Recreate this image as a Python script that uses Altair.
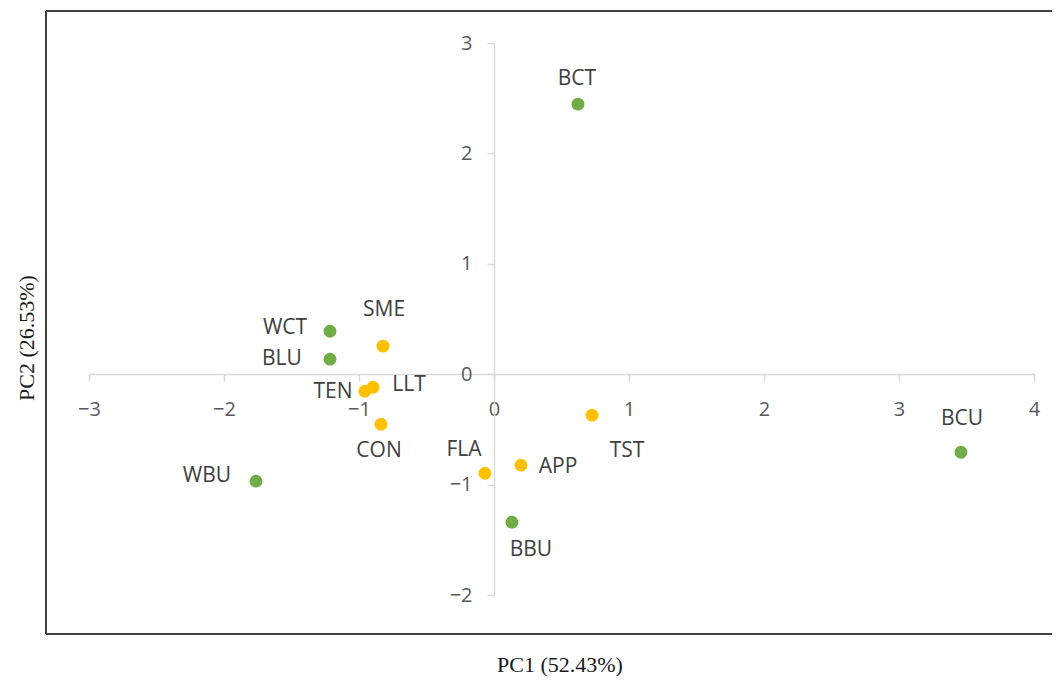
import altair as alt
import pandas as pd

names = ["BCT", "BCU", "WCT", "BLU", "WBU", "BBU",
         "SME", "TEN", "LLT", "CON", "TST", "FLA", "APP"]
pc1 = [0.622, 3.459, -1.215, -1.215, -1.763, 0.133,
       -0.822, -0.956, -0.896, -0.837, 0.726, -0.067, 0.200]
pc2 = [2.446, -0.707, 0.389, 0.136, -0.969, -1.341,
       0.254, -0.154, -0.118, -0.453, -0.371, -0.897, -0.824]
groups = ["sample"] * 6 + ["attribute"] * 7
x_ticks = [-3, -2, -1, 0, 1, 2, 3, 4]
y_ticks = [-2, -1, 0, 1, 2, 3]
x_title = "PC1 (52.43%)"
y_title = "PC2 (26.53%)"

df = pd.DataFrame({"name": names, "pc1": pc1, "pc2": pc2, "group": groups})

# label placement (pixel offsets from each point, like Excel's manual label positions)
LABEL_OFFSETS = {
    "BCT": (-1, -25), "BCU": (1, -33), "WCT": (-45, -3), "BLU": (-48, 0),
    "SME": (1, -36), "TEN": (-32, 1), "LLT": (36, -2), "CON": (-2, 27),
    "TST": (35, 36), "FLA": (-21, -23), "APP": (37, 2), "WBU": (-49, -5),
    "BBU": (19, 28),
}

AXIS_GRAY = "#d9d9d9"
LABEL_GRAY = "#595959"

xscale = alt.Scale(domain=[-3, 4], nice=False, zero=False)
yscale = alt.Scale(domain=[-2, 3], nice=False, zero=False)

xaxis = alt.Axis(values=x_ticks, offset=-221, title=None, grid=False,
                 domainColor=AXIS_GRAY, domainWidth=1.5,
                 tickColor=AXIS_GRAY, tickWidth=1.5, tickSize=7,
                 labelFont="Open Sans", labelFontSize=20, labelColor=LABEL_GRAY,
                 labelPadding=18, labelFlush=False, labelOverlap=False, format="d")
yaxis = alt.Axis(values=y_ticks, offset=-405, title=None, grid=False,
                 domainColor=AXIS_GRAY, domainWidth=1.5,
                 tickColor=AXIS_GRAY, tickWidth=1.5, tickSize=7,
                 labelFont="Open Sans", labelFontSize=20, labelColor=LABEL_GRAY,
                 labelPadding=15, labelFlush=False, labelOverlap=False, format="d")

base = alt.Chart(df)

points = base.mark_circle(size=165, opacity=1).encode(
    x=alt.X("pc1:Q", scale=xscale, axis=xaxis),
    y=alt.Y("pc2:Q", scale=yscale, axis=yaxis),
    color=alt.Color("group:N",
                    scale=alt.Scale(domain=["sample", "attribute"],
                                    range=["#70ad47", "#ffc000"]),
                    legend=None),
)

label_layers = []
for n in names:
    dx, dy = LABEL_OFFSETS[n]
    label_layers.append(
        base.transform_filter(alt.datum.name == n)
        .mark_text(font="Open Sans", fontSize=21, color="#404040",
                   align="center", baseline="middle", dx=dx, dy=dy)
        .encode(x=alt.X("pc1:Q", scale=xscale),
                y=alt.Y("pc2:Q", scale=yscale),
                text="name:N")
    )

one = alt.Data(values=[{}])
frame_style = dict(color="#404040", strokeWidth=2)
frame_left = alt.Chart(one).mark_rule(**frame_style).encode(
    x=alt.value(-43), y=alt.value(-32), y2=alt.value(591))
frame_top = alt.Chart(one).mark_rule(**frame_style).encode(
    x=alt.value(-43), x2=alt.value(990), y=alt.value(-32))
frame_bottom = alt.Chart(one).mark_rule(**frame_style).encode(
    x=alt.value(-43), x2=alt.value(990), y=alt.value(591))

title_x = alt.Chart(one).mark_text(font="Liberation Serif", fontSize=22,
                                   color="#1a1a1a", align="center",
                                   baseline="middle").encode(
    x=alt.value(471), y=alt.value(622), text=alt.value(x_title))
title_y = alt.Chart(one).mark_text(font="Liberation Serif", fontSize=22,
                                   color="#1a1a1a", align="center",
                                   baseline="middle", angle=270).encode(
    x=alt.value(-62), y=alt.value(295), text=alt.value(y_title))

chart = alt.layer(points, *label_layers, frame_left, frame_top, frame_bottom,
                  title_x, title_y).properties(
    width=945, height=552,
    background="white",
    autosize=alt.AutoSizeParams(type="none"),
    padding={"left": 81, "top": 35, "right": 18, "bottom": 85},
).configure_view(strokeWidth=0, stroke=None)

chart.save("out.html", embed_options={"renderer": "svg", "actions": False})
